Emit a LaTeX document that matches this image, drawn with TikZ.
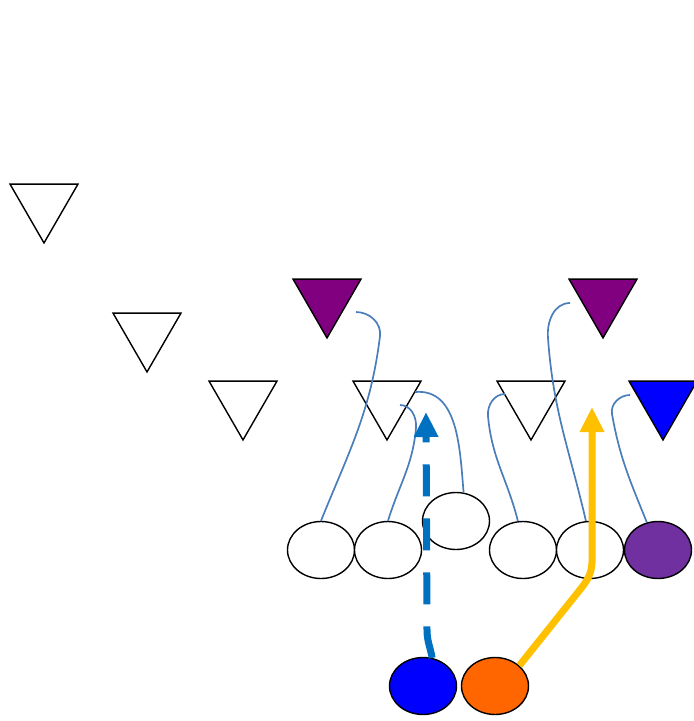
\documentclass[tikz,border=0pt]{standalone}
\usetikzlibrary{arrows.meta,shapes.geometric}
\definecolor{dpurple}{HTML}{800080}
\definecolor{dblue}{HTML}{0000FF}
\definecolor{opurple}{HTML}{7030A0}
\definecolor{oorange}{HTML}{FF6600}
\definecolor{lineblue}{HTML}{4A7EBB}
\definecolor{runblue}{HTML}{0070C0}
\definecolor{runyellow}{HTML}{FFC000}
\tikzset{
  defender/.style={regular polygon,regular polygon sides=3,shape border rotate=180,draw=black,line width=1.4pt,minimum size=78.5pt,inner sep=0pt},
  blocker/.style={ellipse,draw=black,line width=1.4pt,minimum width=67pt,minimum height=57pt,inner sep=0pt},
  assign/.style={draw=lineblue,line width=1.7pt},
  runpath/.style={-{Triangle[length=25pt,width=23pt]},line width=7pt},
}
\begin{document}
\begin{tikzpicture}[x=1pt,y=-1pt]
  \useasboundingbox (0,0) rectangle (694,721);
  \foreach \n/\x/\y/\c in {1/44/203.7/white,2/147/332.7/white,3/243/400.7/white,4/327/298.7/dpurple,
    5/387/400.7/white,6/531/400.7/white,7/603/298.7/dpurple,8/663/400.7/dblue} {
    \node[defender,fill=\c] (t\n) at (\x,\y) {};
  }
  \foreach \n/\x/\y/\c in {1/321/550/white,2/388/550/white,3/456/521/white,4/523/550/white,
    5/590/550/white,6/658/550/opurple} {
    \node[blocker,fill=\c] (e\n) at (\x,\y) {};
  }
  \node[blocker,fill=dblue] (qb) at (423,686) {};
  \node[blocker,fill=oorange] (rb) at (495,686) {};
  \coordinate (h1) at (356,312);
  \coordinate (h2) at (400,405);
  \coordinate (h3) at (415,392);
  \coordinate (h4) at (505,394);
  \coordinate (h5) at (570,303);
  \coordinate (h6) at (630,395);
  \coordinate (tipq) at (426,412);
  \coordinate (tipr) at (592,407);
  \draw[assign] (e1.north) to[out=68,in=-97] (380,336) to[out=83,in=0] (h1);
  \draw[assign] (e2.north) to[out=73,in=-95] (416,428) to[out=85,in=0] (h2);
  \draw[assign] (h3) to[out=5,in=95] (e3.75);
  \draw[assign] (e4.100) to[out=104,in=-85] (488,416) to[out=95,in=180] (h4);
  \draw[assign] (e5.98) to[out=103,in=-86] (548,338) to[out=95,in=180] (h5);
  \draw[assign] (e6.112) to[out=112,in=-80] (612,414) to[out=100,in=180] (h6);
  \draw[runpath,runblue,dash pattern=on 32pt off 22pt] (qb.72) to[out=100,in=-90] (427,630) -- (tipq);
  \draw[runpath,runyellow] (rb.40) -- (575,596) to[out=52,in=-91] (592,562) -- (tipr);
\end{tikzpicture}
\end{document}
